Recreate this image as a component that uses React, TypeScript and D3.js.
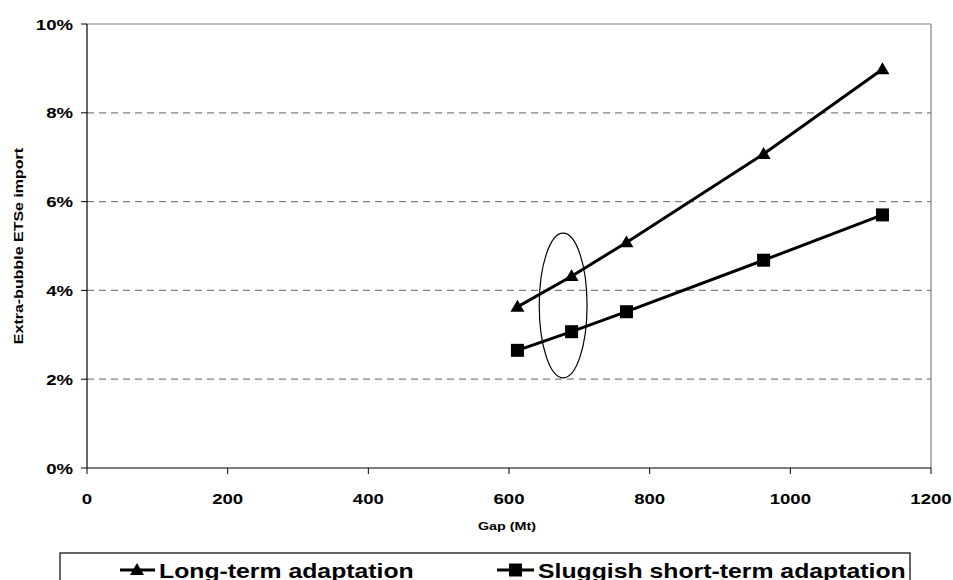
import React from "react";
import * as d3 from "d3";

const gaps = [612, 689, 767, 962, 1131];
const longTerm = [0.0363, 0.0432, 0.0508, 0.0707, 0.0898];
const sluggish = [0.0265, 0.0307, 0.0352, 0.0468, 0.0570];
const xTicks = [0, 200, 400, 600, 800, 1000, 1200];
const yTicks = [0, 0.02, 0.04, 0.06, 0.08, 0.1];
const seriesNames = ["Long-term adaptation", "Sluggish short-term adaptation"];
const ellipseCenter = [677, 0.0366];
const ellipseRadii = [34, 0.0163];

const W = 953, H = 580;
const left = 87, right = 931, top = 24, bottom = 468;
const font = "'Liberation Sans', Arial, sans-serif";
const SX = 1.24;

function HText({ x, y, size, anchor = "start", children }: any) {
  return (
    <text transform={`translate(${x},${y}) scale(${SX},1)`} textAnchor={anchor} fontSize={size} fontWeight="bold">
      {children}
    </text>
  );
}

export default function App() {
  const x = d3.scaleLinear().domain([0, 1200]).range([left, right]);
  const y = d3.scaleLinear().domain([0, 0.1]).range([bottom, top]);
  const line = d3.line<[number, number]>().x(d => x(d[0])).y(d => y(d[1]));
  const lt: [number, number][] = gaps.map((g, i) => [g, longTerm[i]]);
  const sl: [number, number][] = gaps.map((g, i) => [g, sluggish[i]]);
  const tri = (cx: number, cy: number, s = 7) =>
    `M${cx},${cy - s}L${cx + s},${cy + s * 0.7}L${cx - s},${cy + s * 0.7}Z`;
  return (
    <svg width={W} height={H} style={{ position: "absolute", left: 0, top: 0, fontFamily: font }}>
      <rect width={W} height={H} fill="#fff" />
      {yTicks.filter(t => t > 0 && t < 0.1).map(t => (
        <line key={t} x1={left} x2={right} y1={y(t)} y2={y(t)} stroke="#808080" strokeWidth={1.2} strokeDasharray="7,5" />
      ))}
      <line x1={left} x2={right} y1={top} y2={top} stroke="#808080" strokeWidth={1.2} />
      <line x1={right} x2={right} y1={top} y2={bottom} stroke="#808080" strokeWidth={1.2} />
      <line x1={left} x2={left} y1={top} y2={bottom} stroke="#000" strokeWidth={1.2} />
      <line x1={left} x2={right} y1={bottom} y2={bottom} stroke="#000" strokeWidth={1.2} />
      {yTicks.map(t => (
        <g key={t}>
          <line x1={left - 6} x2={left} y1={y(t)} y2={y(t)} stroke="#000" />
          <HText x={left - 14} y={y(t) + 5.5} size={15} anchor="end">{Math.round(t * 100)}%</HText>
        </g>
      ))}
      {xTicks.map(t => (
        <g key={t}>
          <line x1={x(t)} x2={x(t)} y1={bottom} y2={bottom + 6} stroke="#000" />
          <HText x={x(t)} y={504} size={15} anchor="middle">{t}</HText>
        </g>
      ))}
      <HText x={x(600) - 2} y={530} size={11.6} anchor="middle">Gap (Mt)</HText>
      <text transform={`translate(22.7,${(top + bottom) / 2}) rotate(-90) scale(1,0.81)`} textAnchor="middle" fontSize={16} fontWeight="bold">Extra-bubble ETSe import</text>
      <ellipse cx={x(ellipseCenter[0])} cy={y(ellipseCenter[1])} rx={x(ellipseRadii[0]) - x(0)} ry={y(0) - y(ellipseRadii[1])} fill="none" stroke="#000" strokeWidth={1.2} />
      <path d={line(lt) || ""} fill="none" stroke="#000" strokeWidth={3} />
      <path d={line(sl) || ""} fill="none" stroke="#000" strokeWidth={3} />
      {lt.map((d, i) => <path key={i} d={tri(x(d[0]), y(d[1]))} fill="#000" />)}
      {sl.map((d, i) => <rect key={i} x={x(d[0]) - 6.5} y={y(d[1]) - 6.5} width={13} height={13} fill="#000" />)}
      <rect x={60} y={553} width={850} height={50} fill="#fff" stroke="#000" strokeWidth={1.2} />
      <line x1={120} x2={155} y1={570} y2={570} stroke="#000" strokeWidth={3} />
      <path d={tri(137, 570)} fill="#000" />
      <HText x={159} y={578} size={20}>{seriesNames[0]}</HText>
      <line x1={497} x2={534} y1={570} y2={570} stroke="#000" strokeWidth={3} />
      <rect x={509} y={563.5} width={13} height={13} fill="#000" />
      <HText x={538} y={578} size={20}>{seriesNames[1]}</HText>
    </svg>
  );
}
